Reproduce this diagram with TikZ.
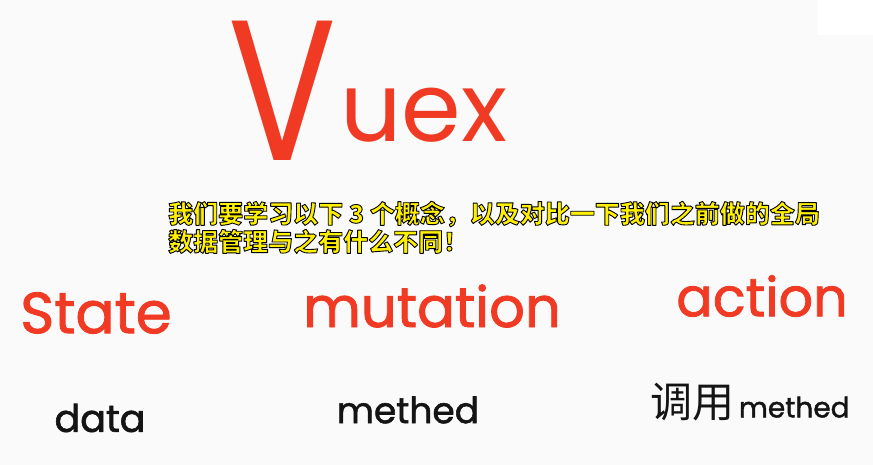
\documentclass[tikz,border=0pt]{standalone}
\usepackage{fontspec}
\setmainfont{Poppins}
\newfontface\markerfont{Poppins}[FakeBold=1.5]
\newfontfamily\cjk{Noto Sans CJK SC}
\definecolor{board}{RGB}{250,250,250}
\definecolor{marker}{RGB}{240,58,36}
\definecolor{ink}{RGB}{20,20,20}
\definecolor{subyellow}{RGB}{255,240,0}
% yellow text with a black outline (PDF text render mode 2)
\newcommand{\outlined}[1]{\special{pdf:literal direct 2 Tr 0.9 w 1 j 0 0 0 RG}#1\special{pdf:literal direct 0 Tr}}

\begin{document}
\begin{tikzpicture}[x=1pt, y=-1pt,
  redword/.style={text=marker, inner sep=0pt},
  blackword/.style={text=ink, inner sep=0pt}]
  % Board
  \fill[board] (0,0) rectangle (873,465);
  \fill[white] (817,0) rectangle (873,35);
  % Title
  \node[redword, font=\fontsize{100}{100}\selectfont, xscale=1.6, yscale=2] (vuexV) at (283,91) {V};
  \node[redword, font=\fontsize{96}{96}\selectfont, anchor=west] (vuexRest) at (340,115) {uex};
  % Subtitle
  \node[anchor=north west, align=left, text=subyellow, inner sep=0pt,
    font=\cjk\bfseries\fontsize{25}{28}\selectfont] (subtitle) at (168,201)
    {\outlined{我们要学习以下 3 个概念，以及对比一下我们之前做的全局}\\
     \outlined{数据管理与之有什么不同！}};
  % Concepts
  \node[redword, font=\markerfont\fontsize{58}{58}\selectfont] (state) at (96,313) {State};
  \node[redword, font=\markerfont\fontsize{56}{56}\selectfont] (mutation) at (432,306) {mutation};
  \node[redword, font=\markerfont\fontsize{54}{54}\selectfont] (action) at (762,296) {action};
  % Counterparts
  \node[blackword, font=\markerfont\fontsize{38}{38}\selectfont] (data) at (100,418) {data};
  \node[blackword, font=\markerfont\fontsize{36}{36}\selectfont] (methed) at (408,410) {methed};
  \node[blackword, font=\markerfont\fontsize{28}{28}\selectfont] (callMethed) at (750,402)
    {{\cjk\fontsize{42}{42}\selectfont 调用}\,methed};
\end{tikzpicture}
\end{document}
